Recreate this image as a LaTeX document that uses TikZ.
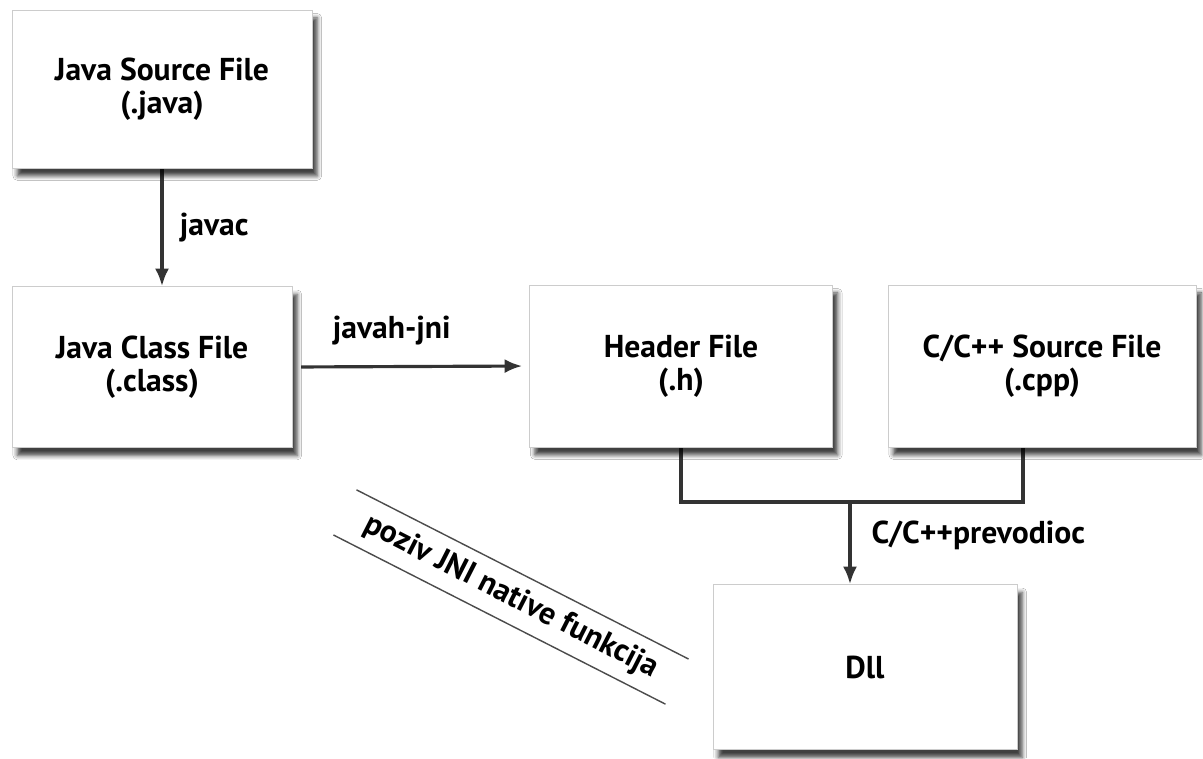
\documentclass[tikz,border=0pt]{standalone}
\usepackage{fontspec}
\setmainfont{PT Sans}
\usetikzlibrary{arrows.meta,calc,shadows.blur,backgrounds}

\begin{document}
\begin{tikzpicture}[x=0.02cm,y=-0.02cm,
   font=\bfseries\fontsize{18}{19}\selectfont,
   filebox/.style={draw=black!20,fill=white,align=center,inner sep=0pt,
      blur shadow={shadow xshift=3pt,shadow yshift=-4.5pt,shadow blur radius=2.5pt,shadow opacity=75}},
   link/.style={line width=1.8pt,draw=black!80},
   arr/.style={link,-{Latex[length=10pt,width=8pt]}}]
   \useasboundingbox (0,0) rectangle (1203,758);
   \node[filebox,minimum width=6cm,minimum height=3.16cm] (src) at (162,89) {Java Source File\\(.java)};
   \node[filebox,minimum width=5.6cm,minimum height=3.22cm] (cls) at (152,367) {Java Class File\\(.class)};
   \node[filebox,minimum width=6.06cm,minimum height=3.24cm] (hdr) at (681,366) {Header File\\(.h)};
   \node[filebox,minimum width=6.16cm,minimum height=3.24cm] (cpp) at (1042,366) {C/C++ Source File\\(.cpp)};
   \node[filebox,minimum width=6.08cm,minimum height=3.3cm] (dll) at (865,667) {Dll};
   \node[rotate=-27,minimum width=7.44cm,minimum height=1cm] (note) at (511,597) {poziv JNI native funkcija};
   \coordinate (merge) at (850,502);
   \begin{scope}[on background layer]
   \fill[white] (0,0) rectangle (1203,758);
   \draw[arr] (src.south -| 162,0) -- node[right=6pt] {javac} (cls.north -| 162,0);
   \draw[arr,shorten <=5pt,shorten >=4pt] (cls.east) -- node[above=8pt,pos=0.42] {javah-jni} (hdr.west);
   \draw[link] (hdr.south) |- (merge) -| ($(cpp.south)+(-19,0)$);
   \draw[arr] (merge) -- node[right=8pt,pos=0.4] {C/C++prevodioc} (merge |- dll.north);
   \end{scope}
   \draw[black!70,line width=0.8pt] (note.north west) -- (note.north east);
   \draw[black!70,line width=0.8pt] (note.south west) -- (note.south east);
\end{tikzpicture}
\end{document}
